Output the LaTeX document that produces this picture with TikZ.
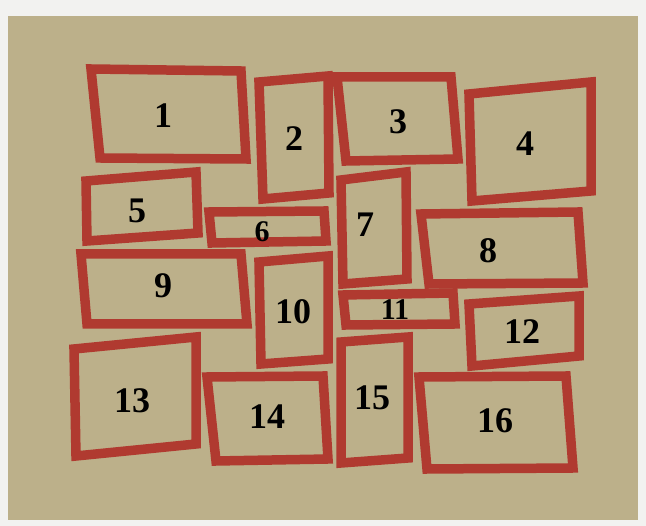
\documentclass[tikz,border=0pt]{standalone}
\usepackage{fontspec}
\setmainfont{Liberation Serif}
\definecolor{paper}{RGB}{188,176,138}
\definecolor{margin}{RGB}{242,242,240}
\definecolor{frame}{RGB}{176,58,48}
\begin{document}
\begin{tikzpicture}[x=1pt,y=-1pt,
  box/.style={draw=frame,line width=9.5pt,line join=miter},
  num/.style={font=\fontsize{36}{36}\selectfont\bfseries,text=black,inner sep=0pt},
  small/.style={font=\fontsize{30}{30}\selectfont\bfseries,text=black,inner sep=0pt}]
\useasboundingbox (0,0) rectangle (646,526);
\fill[margin] (0,0) rectangle (646,526);
\fill[paper] (8,16) rectangle (638,520);
% frames
\draw[box] (91,69) -- (241,71) -- (246,159) -- (100,158) -- cycle;
\draw[box] (259,82) -- (328,76) -- (329,193) -- (263,199) -- cycle;
\draw[box] (337,77) -- (451,77) -- (458,159) -- (346,161) -- cycle;
\draw[box] (469,94) -- (591,82) -- (591,191) -- (472,201) -- cycle;
\draw[box] (86,181) -- (196,172) -- (198,233) -- (87,241) -- cycle;
\draw[box] (209,212) -- (324,211) -- (326,241) -- (212,243) -- cycle;
\draw[box] (341,180) -- (406,172) -- (407,279) -- (343,284) -- cycle;
\draw[box] (421,214) -- (578,212) -- (583,283) -- (429,284) -- cycle;
\draw[box] (81,254) -- (241,254) -- (247,324) -- (87,324) -- cycle;
\draw[box] (259,262) -- (328,256) -- (328,359) -- (261,364) -- cycle;
\draw[box] (343,295) -- (453,293) -- (455,324) -- (346,325) -- cycle;
\draw[box] (469,304) -- (579,296) -- (579,356) -- (472,366) -- cycle;
\draw[box] (74,349) -- (196,337) -- (196,444) -- (76,456) -- cycle;
\draw[box] (207,377) -- (323,376) -- (328,459) -- (216,461) -- cycle;
\draw[box] (341,342) -- (408,337) -- (408,458) -- (341,463) -- cycle;
\draw[box] (419,377) -- (566,376) -- (573,468) -- (427,469) -- cycle;
% numbers
\node[num] (n1) at (163,116) {1};
\node[num] (n2) at (294,139) {2};
\node[num] (n3) at (398,122) {3};
\node[num] (n4) at (525,144) {4};
\node[num] (n5) at (137,211) {5};
\node[small] (n6) at (262,232) {6};
\node[num] (n7) at (365,225) {7};
\node[num] (n8) at (488,251) {8};
\node[num] (n9) at (163,286) {9};
\node[num] (n10) at (293,312) {10};
\node[small] (n11) at (395,310) {11};
\node[num] (n12) at (522,332) {12};
\node[num] (n13) at (132,401) {13};
\node[num] (n14) at (267,417) {14};
\node[num] (n15) at (372,398) {15};
\node[num] (n16) at (495,421) {16};
\end{tikzpicture}
\end{document}
